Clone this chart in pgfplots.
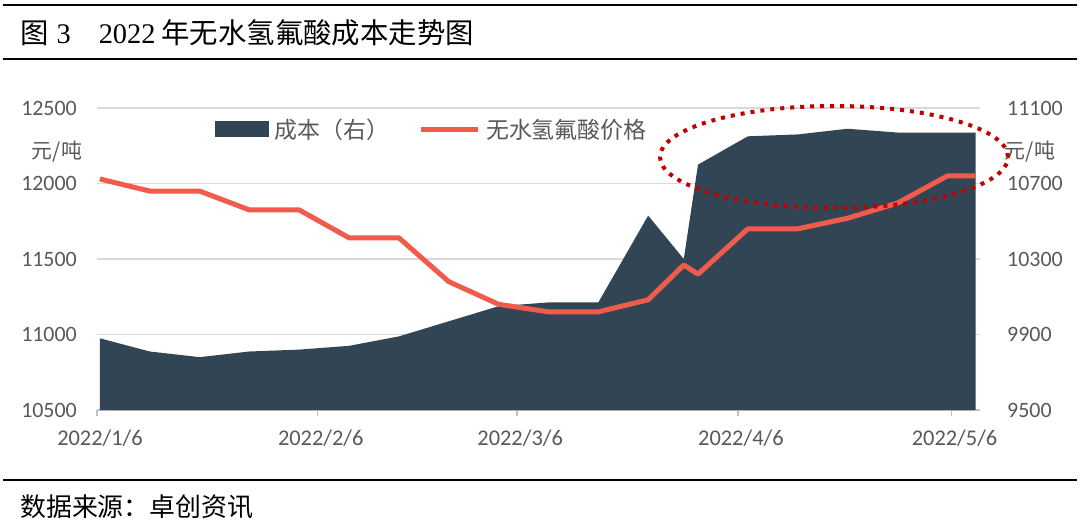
\documentclass[border=0pt]{standalone}
\usepackage{fontspec}
\setmainfont{Carlito}
\newfontfamily\cjk{Noto Sans CJK SC}
\newfontfamily\tnr{Liberation Serif}
\usepackage{pgfplots}
\pgfplotsset{compat=1.18}
\usepackage{pgfplotstable}

\definecolor{costc}{RGB}{50,69,84}
\definecolor{pricec}{RGB}{241,91,76}
\definecolor{labelc}{RGB}{89,89,89}
\definecolor{gridc}{RGB}{217,217,217}
\definecolor{axisc}{RGB}{191,191,191}
\definecolor{ellc}{RGB}{192,0,0}

% day 0 = 2022/1/6
\pgfplotstableread{
day price cost
0   12030 9880
7   11950 9810
14  11950 9780
21  11825 9810
28  11825 9820
35  11640 9840
42  11640 9890
49  11350 9970
56  11200 10050
63  11150 10070
70  11150 10070
77  11230 10530
82  11460 10300
84  11400 10800
91  11700 10950
98  11700 10960
105 11770 10990
112 11870 10970
119 12050 10970
123 12050 10970
}\hfdata

\pgfplotsset{
  common/.style={
    scale only axis, width=883bp, height=302bp,
    at={(97bp,-410bp)}, anchor=south west,
    xmin=-0.4, xmax=123.6,
    scaled y ticks=false,
    ticklabel style={font=\fontsize{22}{24}\selectfont, text=labelc},
    /pgf/number format/assume math mode=true,
    /pgf/number format/1000 sep={},
    y tick style={draw=none},
  }
}

\begin{document}
\begin{tikzpicture}
\path[use as bounding box] (0,0) rectangle (1080bp,-528bp);
\fill[white] (0,0) rectangle (1080bp,-528bp);

\draw[line width=2.6bp] (3bp,-5bp) -- (1077bp,-5bp);
\draw[line width=2.6bp] (3bp,-59bp) -- (1077bp,-59bp);
\draw[line width=2.2bp] (3bp,-480bp) -- (1077bp,-480bp);

\node[anchor=west, inner sep=0pt, font=\fontsize{28.5}{31}\selectfont] at (20bp,-33bp)
  {\cjk 图\hspace{8bp}{\tnr 3}\hspace{28bp}{\tnr 2022}\hspace{6bp}年无水氢氟酸成本走势图};
\node[anchor=west, inner sep=0pt, font=\cjk\fontsize{26}{28}\selectfont] at (20bp,-507bp)
  {数据来源：卓创资讯};

% cost, right axis
\begin{axis}[common,
  ymin=9500, ymax=11100,
  ytick={9500,9900,10300,10700,11100},
  axis x line*=bottom, axis y line*=right,
  x axis line style={draw=axisc, line width=1.3bp, -},
  y axis line style={draw=none},
  xtick={-0.4,30.6,58.6,89.6,119.6},
  xticklabels={2022/1/6,2022/2/6,2022/3/6,2022/4/6,2022/5/6},
  x tick style={draw=axisc, line width=1.3bp},
  major tick length=6bp, tick align=outside,
  ymajorgrids, major grid style={draw=gridc, line width=1.3bp},
  xticklabel style={font=\fontsize{22.5}{24}\selectfont, inner sep=0pt, anchor=north, yshift=-14bp, xshift=3bp},
  yticklabel style={inner sep=0pt, anchor=west, xshift=21bp},
]
\addplot[fill=costc, draw=none] table[x=day, y=cost] {\hfdata} \closedcycle;
\end{axis}

% price, left axis
\begin{axis}[common,
  ymin=10500, ymax=12500,
  ytick={10500,11000,11500,12000,12500},
  axis y line*=left, axis x line=none,
  y axis line style={draw=none},
  tick align=inside, major tick length=0bp,
  yticklabel style={inner sep=0pt, anchor=east, xshift=-20bp},
  legend columns=2,
  legend style={draw=none, fill=none, inner sep=0pt,
    at={(0.1336,0.93)}, anchor=west,
    font=\cjk\fontsize{23}{26}\selectfont, text=labelc,
    nodes={inner sep=1bp},
    /tikz/every odd column/.append style={column sep=5bp},
    /tikz/every even column/.append style={column sep=28bp}},
  legend cell align=left,
]
\addlegendimage{legend image code/.code={\fill[costc] (0bp,-7.5bp) rectangle (53bp,7.5bp);}}
\addlegendentry{成本（右）}
\addplot[pricec, line width=5bp, line join=round,
  legend image code/.code={\draw[pricec, line width=5bp] (0bp,0bp) -- (57bp,0bp);}]
  table[x=day, y=price] {\hfdata};
\addlegendentry{无水氢氟酸价格}
\end{axis}

\node[font=\cjk\fontsize{21}{23}\selectfont, text=labelc] at (57bp,-152bp) {元/吨};
\node[font=\cjk\fontsize{21}{23}\selectfont, text=labelc] at (1030bp,-152bp) {元/吨};

\draw[ellc, line width=4bp, dash pattern=on 4bp off 6bp] (834bp,-157bp) ellipse (174bp and 51bp);
\end{tikzpicture}
\end{document}
